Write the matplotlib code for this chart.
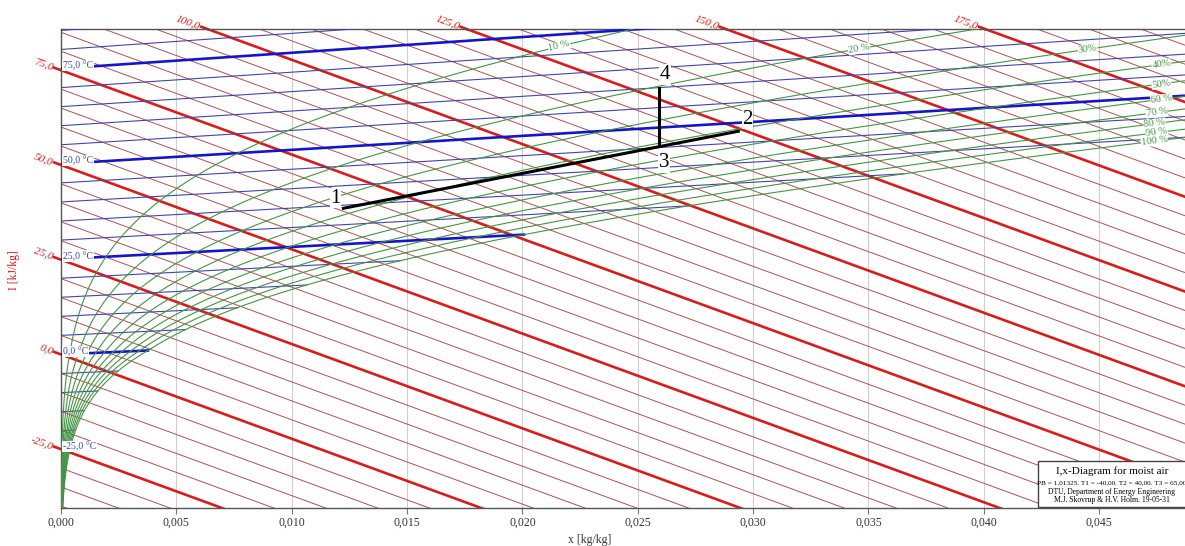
import numpy as np
import matplotlib.pyplot as plt
from matplotlib.patches import Rectangle

plt.rcParams['font.family'] = ['Liberation Serif', 'DejaVu Serif']

# chart levels
enthalpy_levels = np.arange(-40, 200, 5)          # kJ/kg
enthalpy_major = [-25, 0, 25, 50, 75, 100, 125, 150, 175]
temp_levels = np.arange(-40, 90, 5)               # °C
temp_major = [-25, 0, 25, 50, 75]
rh_levels = [0.1, 0.2, 0.3, 0.4, 0.5, 0.6, 0.7, 0.8, 0.9, 1.0]
rh_labels = ["10 %", "20 %", "30%", "40%", "50%", "60 %", "70 %", "80 %", "90 %", "100 %"]
rh_label_x = [0.0216, 0.0346, 0.0445, 0.0477, 0.0477, 0.0477, 0.0475, 0.0474, 0.0475, 0.0474]
x_ticks = [0.0, 0.005, 0.010, 0.015, 0.020, 0.025, 0.030, 0.035, 0.040, 0.045]

# process states
state_names = ["1", "2", "3", "4"]
state_x = [0.01224, 0.02936, 0.02593, 0.02593]
state_t = [34.2, 47.9, 45.4, 59.8]
label_offsets = [(-8, 10), (9, 12), (5, -17), (6, 14)]

P = 101.325      # kPa
SKEW = 2225.0    # slope of the oblique enthalpy axis
XMAX = 0.04872
YMIN, YMAX = -40.6, 85.8

C_H_THIN = '#ab5252'
C_H_THICK = '#d81c1c'
C_T_THIN = '#4444a8'
C_T_THICK = '#1515c8'
C_RH = '#449444'


def p_sat(t):
    t = np.asarray(t, float)
    water = 0.61078 * np.exp(17.27 * t / (t + 237.3))
    ice = 0.61078 * np.exp(21.875 * t / (t + 265.5))
    return np.where(t >= 0, water, ice)


def x_at(t, phi):
    ps = phi * p_sat(t)
    return 0.622 * ps / (P - ps)


def chart_y(t, x):
    return 1.006 * t + x * (2501 + 1.86 * t) - SKEW * x


def comma(v, nd):
    return f"{v:.{nd}f}".replace('.', ',')


fig = plt.figure(figsize=(11.85, 5.46), dpi=100)
ax = fig.add_axes([61 / 1185, 37.7 / 546, 1 - 61 / 1185, 479 / 546])
ax.set_xlim(0, XMAX)
ax.set_ylim(YMIN, YMAX)

for xt in x_ticks[1:]:
    ax.axvline(xt, color='#cfcfcf', lw=0.8, zorder=0)

# enthalpy lines
xs = np.array([-0.002, XMAX + 0.002])
for h in enthalpy_levels:
    major = h in enthalpy_major
    ax.plot(xs, h - SKEW * xs, color=C_H_THICK if major else C_H_THIN,
            lw=1.9 if major else 0.7, zorder=2)

# angle of the enthalpy lines on screen
p0 = ax.transData.transform((0, 0))
p1 = ax.transData.transform((0.01, -SKEW * 0.01))
h_angle = np.degrees(np.arctan2(p1[1] - p0[1], p1[0] - p0[0]))

d = 0.0003
for h in enthalpy_major:
    if h <= YMAX:
        x0, y0 = 0.0, h
    else:
        x0 = (h - YMAX) / SKEW
        y0 = YMAX
    xe, ye = x0 - d, y0 + SKEW * d
    ax.plot([xe, x0], [ye, y0], color=C_H_THICK, lw=1.9, clip_on=False)
    ax.text(xe - 0.00005, ye, comma(h, 1), color=C_H_THICK, fontsize=8, style='italic',
            rotation=h_angle, rotation_mode='anchor', ha='right', va='center')

# isotherms
for t in temp_levels:
    major = t in temp_major
    x_end = min(float(x_at(t, 1.0)), XMAX + 0.002)
    xx = np.array([0.0, x_end])
    ax.plot(xx, chart_y(t, xx), color=C_T_THICK if major else C_T_THIN,
            lw=1.9 if major else 0.8, zorder=3)
    if major:
        ax.text(0.00008, chart_y(t, 0.0) + 0.8, comma(t, 1) + " °C", color='#3a44b0',
                fontsize=7, ha='left', va='center', zorder=6,
                bbox=dict(fc='white', ec='none', pad=0.6))

# relative humidity curves
tt = np.linspace(-40, 99, 1500)
for phi, lab, lx in zip(rh_levels, rh_labels, rh_label_x):
    xx = x_at(tt, phi)
    ok = (xx > 0) & (xx < 0.08)
    xx, tc = xx[ok], tt[ok]
    yy = chart_y(tc, xx)
    ax.plot(xx, yy, color=C_RH, lw=0.8, zorder=4)
    ly = np.interp(lx, xx, yy)
    q0 = ax.transData.transform((lx - 0.0005, np.interp(lx - 0.0005, xx, yy)))
    q1 = ax.transData.transform((lx + 0.0005, np.interp(lx + 0.0005, xx, yy)))
    ang = np.degrees(np.arctan2(q1[1] - q0[1], q1[0] - q0[0]))
    ax.text(lx, ly, lab, color=C_RH, fontsize=7.5, rotation=ang, rotation_mode='anchor',
            ha='center', va='center', zorder=6,
            bbox=dict(fc='white', ec='none', pad=0.3))

# process
sy = [chart_y(t, x) for t, x in zip(state_t, state_x)]
ax.plot(state_x[:2], sy[:2], color='black', lw=2.2, zorder=7)
ax.plot(state_x[2:], sy[2:], color='black', lw=2.2, zorder=7)
for name, x, y, off in zip(state_names, state_x, sy, label_offsets):
    ax.annotate(name, (x, y), xytext=off, textcoords='offset pixels', fontsize=15,
                ha='center', va='center', zorder=8,
                bbox=dict(fc='white', ec='none', pad=0.5))

ax.set_xticks(x_ticks)
ax.set_xticklabels([comma(v, 3) for v in x_ticks], fontsize=8.5, color='#333333')
ax.set_yticks([])
ax.tick_params(axis='x', length=4, color='#777777', pad=2)
ax.spines['right'].set_visible(False)
for s in ['left', 'bottom', 'top']:
    ax.spines[s].set_color('#555555')
    ax.spines[s].set_linewidth(1.0)
fig.text(590 / 1185, 1 - 540 / 546, 'x [kg/kg]', fontsize=8.5, color='#333333',
         ha='center', va='center')
fig.text(14 / 1185, 1 - 270 / 546, 'I [kJ/kg]', color=C_H_THICK, fontsize=8.5,
         rotation=90, ha='center', va='center')

# info box
fig.patches.append(Rectangle((1038 / 1185, 39.3 / 546), 150 / 1185, 46 / 546,
                             transform=fig.transFigure, fc='white', ec='#444444', lw=1.0,
                             zorder=10))
cx = 1112 / 1185
fig.text(cx, 1 - 471.5 / 546, 'I,x-Diagram for moist air', fontsize=8, ha='center',
         va='center', zorder=11)
fig.text(cx, 1 - 482.7 / 546, 'PB = 1,01325. T1 = -40,00. T2 = 40,00. T3 = 65,00',
         fontsize=5.2, ha='center', va='center', zorder=11)
fig.text(cx, 1 - 491.7 / 546, 'DTU, Department of Energy Engineering', fontsize=5.5,
         ha='center', va='center', zorder=11)
fig.text(cx, 1 - 500 / 546, 'M.J. Skovrup & H.V. Holm. 19-05-31', fontsize=5.5,
         ha='center', va='center', zorder=11)

fig.savefig('out.png', dpi=100)
